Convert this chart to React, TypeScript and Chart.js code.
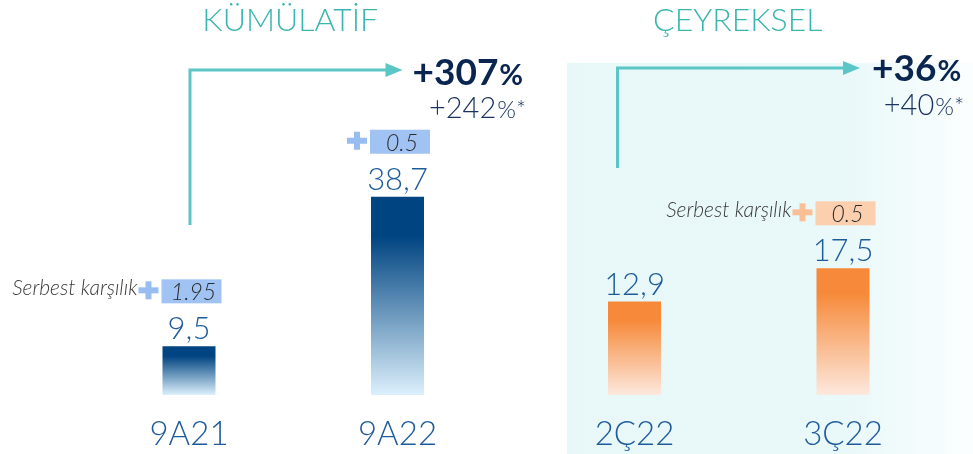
import { useEffect, useRef } from 'react';
import { Chart, registerables } from 'chart.js';

Chart.register(...registerables);

// ---- data ----
const categories = ['9A21', '9A22', '2Ç22', '3Ç22'];
const cumulativeValues = [9.5, 38.7, null, null];
const quarterlyValues = [null, null, 12.9, 17.5];
const valueLabels = ['9,5', '38,7', '12,9', '17,5'];
const provisionValues = ['1.95', '0.5', null, '0.5'];
const provisionShowLabel = [true, false, false, true];
const provisionLabel = 'Serbest karşılık';
const sectionTitles = ['KÜMÜLATİF', 'ÇEYREKSEL'];
const growthMain = ['+307', '+36'];
const growthAdjusted = ['+242', '+40'];

const FONT = 'Lato, "Open Sans", sans-serif';
const BLUE = ['#004481', '#dcf0fc'];
const ORANGE = ['#f68a3a', '#fde8dd'];

export default function App() {
  const ref = useRef<HTMLCanvasElement>(null);

  useEffect(() => {
    const canvas = ref.current!;

    const makeFill = (colors: string[]) => (context: any) => {
      const chart = context.chart;
      const area = chart.chartArea;
      if (!area || !context.parsed || context.parsed.y == null) return colors[0];
      const scale = chart.scales[context.dataset.yAxisID];
      const top = scale.getPixelForValue(context.parsed.y);
      const bottom = scale.getPixelForValue(0);
      if (!isFinite(top) || !isFinite(bottom) || bottom - top < 1) return colors[0];
      const g = chart.ctx.createLinearGradient(0, top, 0, bottom);
      g.addColorStop(0, colors[0]);
      g.addColorStop(0.2, colors[0]);
      g.addColorStop(1, colors[1]);
      return g;
    };

    const barAt = (chart: any, i: number) => {
      const ds = cumulativeValues[i] != null ? 0 : 1;
      return chart.getDatasetMeta(ds).data[i];
    };

    const decor = {
      id: 'decor',
      beforeDraw(chart: any) {
        const ctx = chart.ctx;
        ctx.save();
        const g = ctx.createLinearGradient(567, 0, 973, 0);
        g.addColorStop(0, '#e8f8f9');
        g.addColorStop(0.68, '#e9f8f9');
        g.addColorStop(1, '#fbfefe');
        ctx.fillStyle = g;
        ctx.fillRect(567, 63, 973 - 567, 454 - 63);
        ctx.restore();
      },
      afterDatasetsDraw(chart: any) {
        const ctx = chart.ctx;
        ctx.save();
        const bars = categories.map((_, i) => barAt(chart, i));

        // section titles
        ctx.fillStyle = '#3ab5b0';
        ctx.font = `300 32px ${FONT}`;
        ctx.textAlign = 'center';
        ctx.textBaseline = 'alphabetic';
        ctx.fillText(sectionTitles[0], (bars[0].x + bars[1].x) / 2 - 3, 31);
        ctx.fillText(sectionTitles[1], (bars[2].x + bars[3].x) / 2 - 1, 31);

        // value labels + category labels
        ctx.fillStyle = '#1d5b9a';
        bars.forEach((b: any, i: number) => {
          ctx.font = `300 31px ${FONT}`;
          ctx.fillText(valueLabels[i], b.x, b.y - 7);
          ctx.font = `300 33px ${FONT}`;
          ctx.fillText(categories[i], b.x, 445);
        });

        // provisions
        bars.forEach((b: any, i: number) => {
          const v = provisionValues[i];
          if (v == null) return;
          const isBlue = cumulativeValues[i] != null;
          const left = b.x - b.width / 2 - 1;
          const bottom = b.y - 43;
          const h = 24;
          const cy = bottom - h / 2;
          ctx.fillStyle = isBlue ? '#a0c3f3' : '#fccfae';
          ctx.fillRect(left, bottom - h, 60, h);
          // plus
          ctx.fillStyle = isBlue ? '#98bdf0' : '#fbbf96';
          const px = left - 13, py = cy - 1;
          ctx.fillRect(px - 10, py - 3, 20, 6);
          ctx.fillRect(px - 3, py - 9, 6, 18);
          // number
          ctx.fillStyle = '#2b2b2b';
          ctx.font = `italic 300 23px ${FONT}`;
          ctx.textAlign = 'center';
          ctx.fillText(v, left + 32, bottom - 3);
          if (provisionShowLabel[i]) {
            ctx.fillStyle = '#3a3a3a';
            ctx.font = `italic 300 21px ${FONT}`;
            ctx.textAlign = 'right';
            ctx.fillText(provisionLabel, left - 24, cy + 4);
          }
        });

        // arrows
        const drawArrow = (x0: number, yBottom: number, yTop: number, tip: number) => {
          ctx.strokeStyle = '#5cc6c6';
          ctx.fillStyle = '#5cc6c6';
          ctx.lineWidth = 3;
          ctx.beginPath();
          ctx.moveTo(x0, yBottom);
          ctx.lineTo(x0, yTop);
          ctx.lineTo(tip - 14, yTop);
          ctx.stroke();
          ctx.beginPath();
          ctx.moveTo(tip, yTop);
          ctx.lineTo(tip - 17, yTop - 7);
          ctx.lineTo(tip - 17, yTop + 7);
          ctx.closePath();
          ctx.fill();
        };
        const tipL = bars[1].x + 5;
        const tipR = bars[3].x + 17;
        drawArrow(bars[0].x + 1, 225, 70, tipL);
        drawArrow(bars[2].x - 17, 168, 68, tipR);

        // growth texts
        const drawGrowth = (k: number, x: number, y1: number, y2: number) => {
          ctx.textAlign = 'left';
          ctx.fillStyle = '#0a2650';
          ctx.font = `bold 37px ${FONT}`;
          const w1 = ctx.measureText(growthMain[k]).width;
          ctx.fillText(growthMain[k], x, y1);
          ctx.font = `bold 29px ${FONT}`;
          const wp = ctx.measureText('%').width;
          ctx.fillText('%', x + w1 + 1, y1);
          const right = x + w1 + 1 + wp + 3;
          ctx.fillStyle = '#1a3460';
          ctx.font = `300 24px ${FONT}`;
          const ws = ctx.measureText('%*').width;
          ctx.textAlign = 'right';
          ctx.fillText('%*', right, y2);
          ctx.font = `300 29px ${FONT}`;
          ctx.fillText(growthAdjusted[k], right - ws - 1, y2);
        };
        drawGrowth(0, tipL + 10, 85, 118);
        drawGrowth(1, tipR + 12, 81, 115);

        ctx.restore();
      },
    };

    const chart = new Chart(canvas, {
      type: 'bar',
      data: {
        labels: categories,
        datasets: [
          {
            data: cumulativeValues as any,
            yAxisID: 'y',
            backgroundColor: makeFill(BLUE) as any,
            categoryPercentage: 0.2734,
            barPercentage: 1.86,
          },
          {
            data: quarterlyValues as any,
            yAxisID: 'y2',
            backgroundColor: makeFill(ORANGE) as any,
            categoryPercentage: 0.2734,
            barPercentage: 1.86,
          },
        ],
      },
      options: {
        responsive: false,
        animation: false,
        events: [],
        layout: { padding: { left: 99, right: 40, top: 62, bottom: 59 } },
        plugins: {
          legend: { display: false },
          tooltip: { enabled: false },
        },
        scales: {
          x: { display: false, grid: { display: false } },
          y: { display: false, min: 0, max: 65 },
          y2: { display: false, min: 0, max: 46, position: 'right' },
        },
      },
      plugins: [decor],
    });

    return () => chart.destroy();
  }, []);

  return (
    <div style={{ position: 'fixed', left: 0, top: 0, width: 973, height: 454, background: '#ffffff' }}>
      <canvas ref={ref} width={973} height={454} />
    </div>
  );
}
